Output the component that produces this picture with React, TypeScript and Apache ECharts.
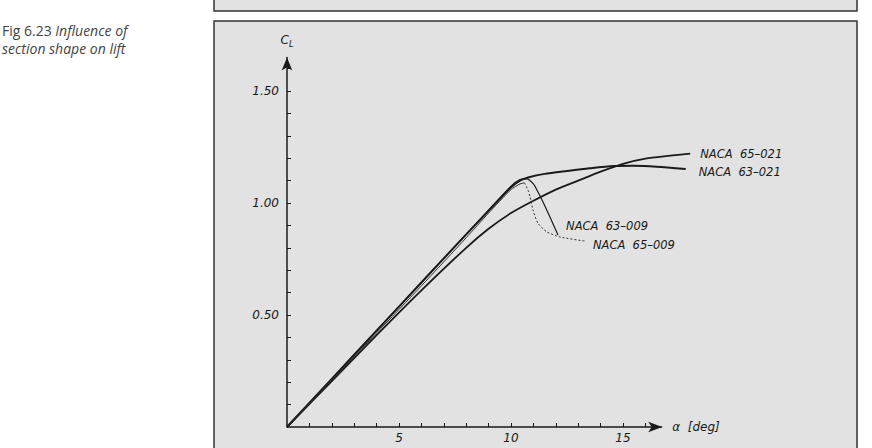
import React, { useEffect, useRef } from "react";
import * as echarts from "echarts";

// ---- data (alpha in deg, CL) ----
const alpha65_021 = [0, 2, 4, 6, 8, 9, 10, 11, 12, 13, 14, 15, 16, 17, 18];
const cl65_021 = [0, 0.205, 0.41, 0.61, 0.8, 0.885, 0.955, 1.01, 1.06, 1.1, 1.14, 1.175, 1.198, 1.21, 1.22];

const alpha63_021 = [0, 2, 4, 6, 8, 9, 10, 10.4, 10.8, 11.5, 12.5, 13.5, 14.6, 15.5, 16.5, 17.8];
const cl63_021 = [0, 0.215, 0.43, 0.645, 0.86, 0.965, 1.07, 1.1, 1.115, 1.13, 1.143, 1.155, 1.165, 1.166, 1.162, 1.152];

const alpha63_009 = [0, 2, 4, 6, 8, 10, 10.4, 10.7, 11.0, 11.2, 11.45, 11.75, 12.1];
const cl63_009 = [0, 0.215, 0.43, 0.645, 0.86, 1.075, 1.105, 1.108, 1.085, 1.05, 1.0, 0.935, 0.857];

const alpha65_009Rise = [0, 2, 4, 6, 8, 9, 10, 10.4, 10.6];
const cl65_009Rise = [0, 0.21, 0.42, 0.63, 0.845, 0.955, 1.06, 1.085, 1.09];
const alpha65_009Stall = [10.6, 10.75, 10.85, 10.98, 11.2, 11.6, 12.2, 13.3];
const cl65_009Stall = [1.09, 1.06, 1.027, 0.969, 0.91, 0.871, 0.848, 0.83];

const xTickValues = [1, 2, 3, 4, 5, 6, 7, 8, 9, 10, 11, 12, 13, 14, 15, 16];
const xLabelValues = [5, 10, 15];
const yTickValues = [0.1, 0.2, 0.3, 0.4, 0.5, 0.6, 0.7, 0.8, 0.9, 1.0, 1.1, 1.2, 1.3, 1.4, 1.5, 1.6];
const yLabelValues = [0.5, 1.0, 1.5];
const xAxisEnd = 16.75;

const zip = (a: number[], b: number[]) => a.map((v, i) => [v, b[i]]);

const FONT = "DejaVu Sans";
const INK = "#1a1a1a";

export default function App() {
  const ref = useRef<HTMLDivElement>(null);
  useEffect(() => {
    if (!ref.current) return;
    const chart = echarts.init(ref.current, undefined, { renderer: "svg" });
    const labelStyle = {
      fontFamily: FONT,
      fontStyle: "italic" as const,
      fontSize: 11.5,
      color: INK,
    };
    chart.setOption({
      animation: false,
      backgroundColor: "#ffffff",
      grid: { left: 287, top: 57.4, width: 414.4, height: 369.6, containLabel: false },
      xAxis: {
        type: "value",
        min: 0,
        max: 18.5,
        axisLine: { show: false },
        splitLine: { show: false },
        axisTick: {
          show: true,
          inside: true,
          length: 4,
          customValues: xTickValues,
          lineStyle: { color: INK, width: 1 },
        },
        axisLabel: {
          customValues: xLabelValues,
          margin: 5,
          ...labelStyle,
          fontSize: 12,
        },
      },
      yAxis: {
        type: "value",
        min: 0,
        max: 1.65,
        splitLine: { show: false },
        axisLine: {
          show: true,
          symbol: ["none", "arrow"],
          symbolSize: [8, 13],
          lineStyle: { color: INK, width: 1.5 },
        },
        axisTick: {
          show: true,
          inside: true,
          length: 4,
          customValues: yTickValues,
          lineStyle: { color: INK, width: 1 },
        },
        axisLabel: {
          customValues: yLabelValues,
          margin: 8,
          formatter: (v: number) => v.toFixed(2),
          ...labelStyle,
          fontSize: 12,
        },
        name: "{c|C}{s|L}",
        nameLocation: "end",
        nameGap: 9,
        nameTextStyle: {
          rich: {
            c: { fontFamily: FONT, fontStyle: "italic", fontSize: 12, color: INK },
            s: { fontFamily: FONT, fontStyle: "italic", fontSize: 8, color: INK, padding: [8, 0, 0, 0] },
          },
        },
      },
      graphic: [
        {
          type: "rect",
          z: -10,
          shape: { x: 214, y: -5, width: 643, height: 16 },
          style: { fill: "#e2e2e2", stroke: "#333", lineWidth: 1.5 },
        },
        {
          type: "rect",
          z: -10,
          shape: { x: 214, y: 21, width: 643, height: 440 },
          style: { fill: "#e2e2e2", stroke: "#333", lineWidth: 1.5 },
        },
        {
          type: "text",
          x: 2,
          y: 21,
          style: {
            text: "{n|Fig 6.23 }{i|Influence of}\n{i|section shape on lift}",
            rich: {
              n: { fontFamily: "Open Sans", fontSize: 14, fill: "#444", lineHeight: 18 },
              i: { fontFamily: "Open Sans", fontStyle: "italic", fontSize: 14, fill: "#444", lineHeight: 18 },
            },
          },
        },
      ],
      series: [
        {
          name: "NACA 65-021",
          type: "line",
          data: zip(alpha65_021, cl65_021),
          showSymbol: false,
          symbol: "none",
          smooth: 0.25,
          lineStyle: { color: INK, width: 1.8 },
          endLabel: {
            show: true,
            formatter: "NACA  65–021",
            offset: [2, 0],
            ...labelStyle,
          },
          markLine: {
            silent: true,
            symbol: ["none", "arrow"],
            symbolSize: [8, 14],
            lineStyle: { color: INK, width: 1.5, type: "solid" },
            label: {
              show: true,
              position: "end",
              distance: 10,
              formatter: "α  [deg]",
              ...labelStyle,
              fontSize: 12,
            },
            data: [[{ coord: [0, 0] }, { coord: [xAxisEnd, 0] }]],
          },
        },
        {
          name: "NACA 63-021",
          type: "line",
          data: zip(alpha63_021, cl63_021),
          showSymbol: false,
          symbol: "none",
          smooth: 0.25,
          lineStyle: { color: INK, width: 2 },
          endLabel: {
            show: true,
            formatter: "NACA  63–021",
            offset: [5, 3],
            ...labelStyle,
          },
        },
        {
          name: "NACA 63-009",
          type: "line",
          data: zip(alpha63_009, cl63_009),
          showSymbol: false,
          symbol: "none",
          smooth: 0.2,
          lineStyle: { color: INK, width: 1.2 },
          endLabel: {
            show: true,
            formatter: "NACA  63–009",
            offset: [0, -9],
            ...labelStyle,
          },
        },
        {
          name: "NACA 65-009 rise",
          type: "line",
          data: zip(alpha65_009Rise, cl65_009Rise),
          showSymbol: false,
          symbol: "none",
          smooth: 0.2,
          lineStyle: { color: "#333", width: 1 },
        },
        {
          name: "NACA 65-009",
          type: "line",
          data: zip(alpha65_009Stall, cl65_009Stall),
          showSymbol: false,
          symbol: "none",
          smooth: 0.2,
          lineStyle: { color: "#333", width: 1, type: [2, 2] },
          endLabel: {
            show: true,
            formatter: "NACA  65–009",
            offset: [0, 4],
            ...labelStyle,
          },
        },
      ],
    });
    return () => chart.dispose();
  }, []);
  return (
    <div
      ref={ref}
      style={{ position: "absolute", left: 0, top: 0, width: 872, height: 448 }}
    />
  );
}
